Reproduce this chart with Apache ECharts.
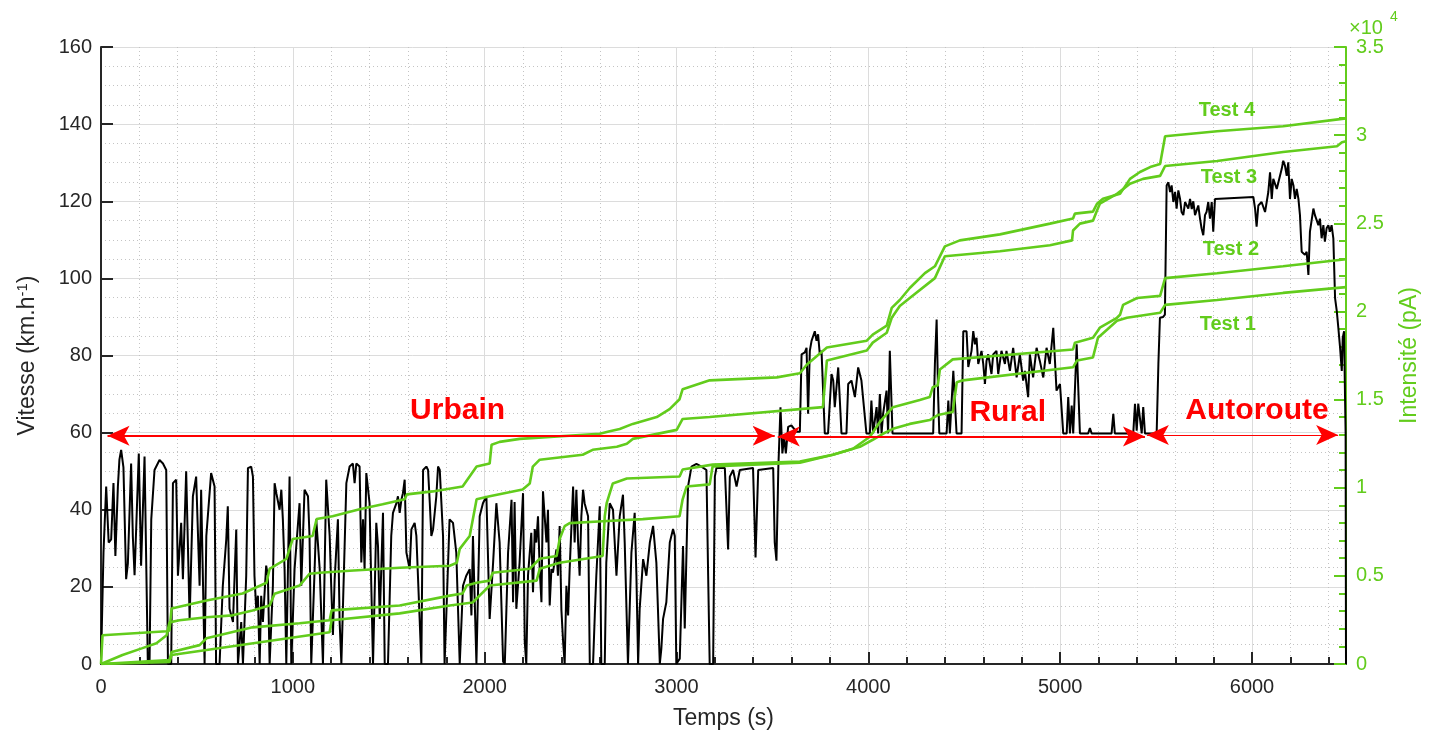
<!DOCTYPE html>
<html>
<head>
<meta charset="utf-8">
<script src="https://cdn.jsdelivr.net/npm/echarts@6/dist/echarts.min.js"></script>
<style>
  html, body { margin: 0; padding: 0; background: #fff; }
  #chart { width: 1435px; height: 735px; }
</style>
</head>
<body>
<div id="chart"></div>
<script>
// Vehicle speed over the drive cycle, [time (s), speed (km/h)]
const speedData = [
  [0,0],[13,29],[27,46],[40,31.5],[53,32.3],[65,46.9],[75,28],[88,46],[96,53],[105,55.5],[117,51],[131,22],[140,26],[157,52],[166,33],[175,23],[197,54.6],[209,25.5],[227,53.8],[244,0.6],[253,0],[262,37.5],[279,50.3],[305,52.9],[323,52],[340,50.3],[349,0],[366,0],[375,46.9],[392,47.8],[401,22.9],[418,36.6],[427,22],[444,50],[462,11.7],[479,43.5],[496,48.6],[514,20.3],[522,45.2],[540,0],[549,33.2],[574,49.5],[592,46],[600,0],[618,0],[635,20.3],[653,32.3],[661,40.9],[670,14.3],[688,10.9],[705,34.9],[714,0],[731,10.9],[740,0],[757,22.9],[766,50.8],[783,51.2],[792,48.6],[800,22.9],[809,14.3],[818,17.7],[827,0],[835,17.7],[844,10.9],[861,25.5],[870,22.9],[879,0],[896,20.3],[905,46.9],[914,44.3],[931,40],[940,45.2],[948,37.5],[957,24.6],[966,0],[983,48.6],[992,0],[1009,24.6],[1035,41.7],[1044,20.3],[1061,45.2],[1079,43.5],[1087,33.2],[1096,0],[1113,23.7],[1122,37.5],[1140,24.6],[1157,0],[1174,47.8],[1192,33.2],[1200,20.3],[1209,7.5],[1218,22],[1235,37.5],[1244,10.9],[1253,0],[1279,46.9],[1296,51.2],[1313,52],[1322,46.9],[1331,52],[1348,51.2],[1357,26.3],[1366,37.5],[1374,24.6],[1383,49.5],[1400,41.7],[1409,20.3],[1418,0],[1435,36.6],[1444,30.6],[1453,11.7],[1470,39.2],[1479,0],[1496,0],[1513,33.2],[1522,39.2],[1540,41.7],[1548,43.5],[1557,39.2],[1566,42.6],[1574,44.3],[1583,47.8],[1592,28.9],[1609,24.6],[1618,34.9],[1635,36.6],[1644,33.2],[1661,11.7],[1670,0],[1679,50.3],[1696,51.2],[1705,50.3],[1714,41.7],[1722,33.2],[1731,34.9],[1748,43.5],[1757,51.2],[1766,50.3],[1783,33.2],[1791,0],[1800,12.6],[1817,37.5],[1835,36.6],[1852,28.9],[1870,0],[1887,20.3],[1904,22.9],[1922,24.6],[1931,12.6],[1939,33.2],[1957,0],[1974,38.3],[1991,41.7],[2009,43.5],[2026,11.7],[2044,26.3],[2061,41.7],[2078,31.5],[2096,0.6],[2105,0],[2122,28.9],
  [2140,42.6],[2148,16],[2156,42],[2165,14.3],[2182,26.3],[2200,44.3],[2209,5.7],[2217,0],[2226,23],[2243,34],[2252,18.6],[2261,35],[2269,31.5],[2278,38.3],[2287,24.6],[2296,16],[2304,44.8],[2322,31.5],[2330,40],[2339,15.2],[2348,24.6],[2356,23.7],[2374,29.7],[2382,22.9],[2391,35.8],[2400,14],[2409,5.7],[2417,0],[2426,20.3],[2435,12.6],[2443,24.6],[2461,46],[2469,31.5],[2478,45.2],[2487,31.5],[2495,22.9],[2504,38.3],[2513,45.2],[2521,41.7],[2539,38.3],[2548,0],[2565,0],[2574,12.6],[2582,22.9],[2600,40.9],[2608,0],[2626,0],[2634,26.3],[2652,41.7],[2669,40],[2687,22.9],[2704,38.3],[2721,43.9],[2730,31.5],[2747,0],[2765,28.9],[2782,39.2],[2791,22.9],[2800,0],[2808,14.3],[2826,27.2],[2843,22.9],[2861,31.5],[2878,35.8],[2895,26.3],[2913,0],[2921,4],[2930,11.7],[2947,16],[2965,31.5],[2982,35],[2991,33.2],[2999,0],[3017,1.4],[3034,30.6],[3043,9.2],[3060,46],[3078,51.2],[3104,51.9],[3130,51.2],[3156,50.3],[3165,22.9],[3173,0],[3191,0],[3200,48.6],[3208,50.8],[3252,50.8],[3269,29.7],[3278,48.6],[3295,50.3],[3313,46],[3330,50.3],[3399,50.8],[3412,27.6],[3426,50.3],[3504,50.8],[3512,31.5],[3521,26.8],[3531,51.2],[3542,66.6],[3552,54.6],[3561,58.9],[3570,54.6],[3582,61.5],[3599,61.9],[3625,60.2],[3643,60.2],
  [3652,80.3],[3669,80.8],[3678,82],[3686,64.9],[3695,81.2],[3704,83.8],[3721,86.3],[3730,83.8],[3738,85.5],[3747,80.3],[3756,81.2],[3773,59.8],[3790,59.8],[3808,75.2],[3817,73.5],[3825,66.6],[3843,76.9],[3860,59.8],[3886,59.8],[3895,72.6],[3912,73.5],[3930,69.2],[3947,76.9],[3964,73.5],[3990,59.8],[4008,59.8],[4016,68.3],[4025,59.8],[4043,66.6],[4051,59.8],[4060,70],[4069,59.8],[4077,64.9],[4095,70.9],[4103,59.8],[4112,81.2],[4126,59.8],[4338,59.8],[4347,77.8],[4356,89.3],[4364,69.2],[4370,59.8],[4408,59.8],[4417,68.3],[4425,59.8],[4434,59.8],[4443,76],[4460,59.8],[4486,59.8],[4495,86.3],[4512,86.3],[4521,77],[4538,81.2],[4547,86.3],[4556,82.9],[4564,84.6],[4573,77.8],[4590,81.2],[4599,77.8],[4608,72.6],[4616,78.6],[4625,80.3],[4642,75.2],[4651,80.3],[4668,81.2],[4677,75.2],[4694,81.2],[4712,77.8],[4720,81.2],[4738,76],[4755,82],[4773,74.3],[4790,80.3],[4807,73.5],[4816,76],[4833,69.2],[4842,80.3],[4859,74.3],[4877,82],[4894,78.6],[4912,74.3],[4929,82],[4946,77.8],[4964,87.2],[4981,70.9],[4999,72.6],[5016,59.8],[5034,59.8],[5042,69.2],[5051,59.8],[5060,67],[5068,59.8],[5086,82.9],[5103,59.8],[5146,59.8],[5155,61.2],[5164,59.8],[5268,59.8],[5277,64.9],[5285,59.8],[5381,59.8],[5390,67.5],[5399,60.5],[5407,67.5],[5425,59.8],[5433,66.6],[5442,59.8],[5503,59.8],[5512,77.8],[5520,89.8],[5537,90],[5546,90.6],
  [5555,124.1],[5564,124.9],[5573,122.4],[5581,124.1],[5590,119.8],[5599,122.4],[5607,118.1],[5616,122.8],[5625,120.6],[5633,117.2],[5642,116.4],[5651,119.8],[5668,118.1],[5677,120.6],[5686,118],[5694,120],[5703,116.4],[5720,118.9],[5729,115.5],[5737,113],[5746,111.2],[5755,116.4],[5763,117.2],[5772,119.8],[5781,115.5],[5790,119.8],[5798,112.1],[5807,120.6],[5816,121.1],[6007,121.1],[6016,118.1],[6024,113.4],[6033,118.9],[6050,119.8],[6068,117.2],[6085,122.4],[6094,127.5],[6103,120.6],[6111,125.8],[6129,123.2],[6146,126.6],[6155,128.4],[6163,130.5],[6172,129.2],[6181,126.6],[6189,130.1],[6198,120.6],[6207,125.8],[6216,124.1],[6224,120.6],[6233,123.2],[6242,120.6],[6250,116.4],[6259,106.9],[6276,106.1],[6285,106.9],[6294,100.9],[6302,112.1],[6320,118.1],[6328,116.4],[6337,116.4],[6346,113.8],[6354,115.5],[6363,110.4],[6372,113.8],[6380,109.5],[6389,113],[6398,113.8],[6406,112.1],[6415,113.8],[6424,110.4],[6433,94.9],[6442,91.5],[6450,87.2],[6459,82.1],[6468,76],[6473,84.6],[6480,86.3],[6485,69.2],[6488,60],[6490,0]
];

// Cumulative intensity for each test run, [time (s), intensity (pA)]
const test1 = [[0,0],[357,110],[368,510],[550,790],[1192,1800],[1202,2480],[1557,2870],[1818,3320],[1937,3490],[2026,4450],[2271,4730],[2287,5400],[2391,5740],[2615,6130],[2626,8380],[2636,9120],[2668,10240],[2741,10520],[3016,10640],[3032,11030],[3188,11310],[3643,11480],[3815,11870],[3920,12210],[3956,12320],[4023,12720],[4076,13060],[4128,13340],[4216,13620],[4320,13840],[4362,14120],[4440,14290],[4461,15980],[4493,16090],[5067,16830],[5088,17220],[5171,17390],[5197,18510],[5244,18960],[5296,19470],[5348,19640],[5521,19920],[5547,20370],[5818,20650],[6162,21050],[6490,21380]];
const test2 = [[0,0],[357,230],[368,680],[514,1070],[550,1460],[790,2080],[1035,2310],[1192,2480],[1202,3040],[1557,3320],[1818,3880],[1885,4000],[1906,4450],[1958,4610],[2026,4730],[2042,5180],[2235,5400],[2287,5970],[2375,6130],[2391,7090],[2417,7820],[2443,7990],[2615,8100],[2824,8220],[3016,8380],[3032,9340],[3053,10070],[3173,10190],[3188,11200],[3643,11420],[3815,11870],[3920,12210],[4008,12890],[4060,13730],[4128,14570],[4268,14970],[4320,15140],[4336,15700],[4362,15810],[4373,16710],[4440,17280],[5067,17840],[5077,18230],[5171,18510],[5207,19080],[5296,19640],[5312,19810],[5328,20370],[5401,20760],[5521,20880],[5547,21890],[5818,22170],[6162,22560],[6490,22960]];
const test3 = [[0,0],[112,510],[216,900],[289,1180],[342,1630],[357,2360],[409,2480],[550,2650],[686,2760],[790,3040],[879,3320],[905,3990],[1035,4450],[1087,5120],[1140,5180],[1296,5290],[1557,5460],[1818,5570],[1855,5740],[1870,6530],[1922,7260],[1958,9340],[2026,9510],[2198,9900],[2235,10240],[2251,11200],[2287,11590],[2511,11870],[2563,12150],[2689,12320],[2741,12490],[2772,12770],[3001,13280],[3032,13900],[3173,14010],[3763,14570],[3784,17220],[3992,17780],[4023,18230],[4096,18790],[4122,19640],[4164,20310],[4216,20760],[4347,21890],[4399,23130],[4686,23410],[4947,23750],[5062,24030],[5067,24590],[5103,24980],[5171,25150],[5192,25720],[5207,26110],[5296,26670],[5364,27240],[5432,27520],[5521,27690],[5547,28250],[5818,28530],[6162,29040],[6443,29370],[6469,29600],[6490,29650]];
const test4 = [[0,0],[8,1630],[342,1860],[357,1900],[368,3150],[550,3600],[738,4000],[863,4610],[879,5400],[967,5970],[999,7090],[1103,7260],[1124,8220],[1207,8380],[1348,8780],[1468,9060],[1583,9340],[1594,9620],[1729,9790],[1885,10070],[1958,11200],[2026,11370],[2036,12440],[2078,12600],[2183,12770],[2600,13060],[2652,13200],[2704,13330],[2772,13620],[2897,14010],[2964,14460],[3016,15020],[3032,15590],[3173,16090],[3523,16260],[3643,16490],[3680,16990],[3784,17950],[3992,18340],[4023,18680],[4096,19190],[4122,20200],[4164,20650],[4216,21330],[4295,22170],[4347,22560],[4399,23690],[4477,24030],[4686,24370],[4947,24980],[5067,25270],[5077,25550],[5171,25660],[5192,26110],[5223,26390],[5312,26670],[5364,27520],[5416,27910],[5469,28190],[5521,28360],[5547,29940],[5818,30220],[6162,30500],[6490,30950]];

// Driving phases: name, start and end time (s) and the speed level of the arrow
const phases = [
  { name: 'Urbain',    from: 34,   to: 3512, level: 59.2, labelAt: [1859, 65.6], width: 2 },
  { name: 'Rural',     from: 3528, to: 5442, level: 59.0, labelAt: [4727, 65.2], width: 2 },
  { name: 'Autoroute', from: 5452, to: 6449, level: 59.4, labelAt: [6026, 65.6], width: 1 }
];

// Run labels placed at [time, intensity]
const testLabels = [
  { name: 'Test 4', at: [5869, 31400] },
  { name: 'Test 3', at: [5880, 27570] },
  { name: 'Test 2', at: [5890, 23520] },
  { name: 'Test 1', at: [5874, 19240] }
];

const GREEN = '#62cc1c';
const INK = '#262626';
const FONT = '"Liberation Sans", Arial, Helvetica, sans-serif';

const chart = echarts.init(document.getElementById('chart'), null, { renderer: 'canvas' });

const testSeries = [test1, test2, test3, test4].map((d, i) => ({
  name: 'Test ' + (i + 1),
  type: 'line',
  yAxisIndex: 1,
  data: d,
  showSymbol: false,
  symbol: 'none',
  lineStyle: { color: GREEN, width: 2.6 },
  z: 3,
  silent: true,
  animation: false,
  markPoint: {
    symbol: 'circle', symbolSize: 0, silent: true, animation: false,
    data: [{
      coord: testLabels[3 - i].at,
      label: {
        show: true, formatter: testLabels[3 - i].name, color: GREEN,
        fontSize: 20, fontWeight: 'bold', fontFamily: FONT, position: 'inside'
      }
    }]
  }
}));

const option = {
  animation: false,
  backgroundColor: '#fff',
  grid: { left: 101, right: 89, top: 47, bottom: 66, containLabel: false },
  xAxis: {
    type: 'value', min: 0, max: 6490, interval: 1000,
    name: 'Temps (s)', nameLocation: 'middle', nameGap: 43,
    nameTextStyle: { color: INK, fontSize: 23, fontFamily: FONT },
    axisLine: { show: true, lineStyle: { color: INK, width: 2 } },
    axisTick: { show: true, inside: true, length: 12, lineStyle: { color: INK, width: 2 } },
    minorTick: { show: true, splitNumber: 5, length: 7, lineStyle: { color: INK, width: 2 } },
    axisLabel: { color: INK, fontSize: 20, fontFamily: FONT, margin: 13,
      formatter: v => (v > 6000 ? '' : String(v)) },
    splitLine: { show: true, lineStyle: { color: '#dcdcdc', width: 1 } },
    minorSplitLine: { show: true, lineStyle: { color: '#c4c4c4', width: 1, type: [1, 3] } }
  },
  yAxis: [
    {
      type: 'value', min: 0, max: 160, interval: 20, position: 'left',
      name: 'Vitesse (km.h{sup|-1})', nameLocation: 'middle', nameGap: 60, nameRotate: 90,
      nameTextStyle: { color: INK, fontSize: 23, fontFamily: FONT,
        rich: { sup: { fontSize: 15, fontFamily: FONT, color: INK, verticalAlign: 'bottom', padding: [0, 0, 11, 0] } } },
      axisLine: { show: true, lineStyle: { color: INK, width: 2 } },
      axisTick: { show: true, inside: true, length: 12, lineStyle: { color: INK, width: 2 } },
      minorTick: { show: false, splitNumber: 4 },
      axisLabel: { color: INK, fontSize: 20, fontFamily: FONT, margin: 9 },
      splitLine: { show: true, lineStyle: { color: '#dcdcdc', width: 1 } },
      minorSplitLine: { show: true, lineStyle: { color: '#c4c4c4', width: 1, type: [1, 3] } }
    },
    {
      type: 'value', min: 0, max: 35000, interval: 5000, position: 'right',
      name: 'Intensité (pA)', nameLocation: 'middle', nameGap: 52, nameRotate: 90,
      nameTextStyle: { color: GREEN, fontSize: 23, fontFamily: FONT },
      axisLine: { show: true, lineStyle: { color: GREEN, width: 2 } },
      axisTick: { show: true, inside: true, length: 12, lineStyle: { color: GREEN, width: 2 } },
      minorTick: { show: true, splitNumber: 5, length: 7, lineStyle: { color: GREEN, width: 2 } },
      axisLabel: { color: GREEN, fontSize: 20, fontFamily: FONT, margin: 10,
        formatter: v => String(v / 10000) },
      splitLine: { show: false },
      minorSplitLine: { show: false }
    }
  ],
  graphic: [
    { type: 'text', left: 1349, top: 18, silent: true,
      style: { text: '×10', fill: GREEN, fontSize: 20, fontFamily: 'Liberation Sans, Arial, sans-serif' } },
    { type: 'text', left: 1390, top: 10, silent: true,
      style: { text: '4', fill: GREEN, fontSize: 14, fontFamily: 'Liberation Sans, Arial, sans-serif' } }
  ],
  series: [
    {
      name: 'Vitesse', type: 'line', yAxisIndex: 0, data: speedData,
      showSymbol: false, symbol: 'none', silent: true, animation: false,
      lineStyle: { color: '#000', width: 2 }, z: 2
    },
    ...testSeries,
    {
      name: 'Phases', type: 'line', yAxisIndex: 0, data: [], silent: true, animation: false, z: 5,
      markLine: {
        silent: true, animation: false,
        symbol: ['arrow', 'arrow'], symbolSize: [15, 22],
        label: { show: false },
        data: phases.map(p => [
          { coord: [p.from, p.level], lineStyle: { color: '#ff0000', width: p.width, type: 'solid' } },
          { coord: [p.to, p.level] }
        ])
      },
      markPoint: {
        symbol: 'circle', symbolSize: 0, silent: true, animation: false,
        data: phases.map(p => ({
          coord: p.labelAt,
          label: { show: true, formatter: p.name, color: '#ff0000', fontSize: 30,
            fontWeight: 'bold', fontFamily: FONT, position: 'inside' }
        }))
      }
    }
  ]
};

chart.setOption(option);
</script>
</body>
</html>
